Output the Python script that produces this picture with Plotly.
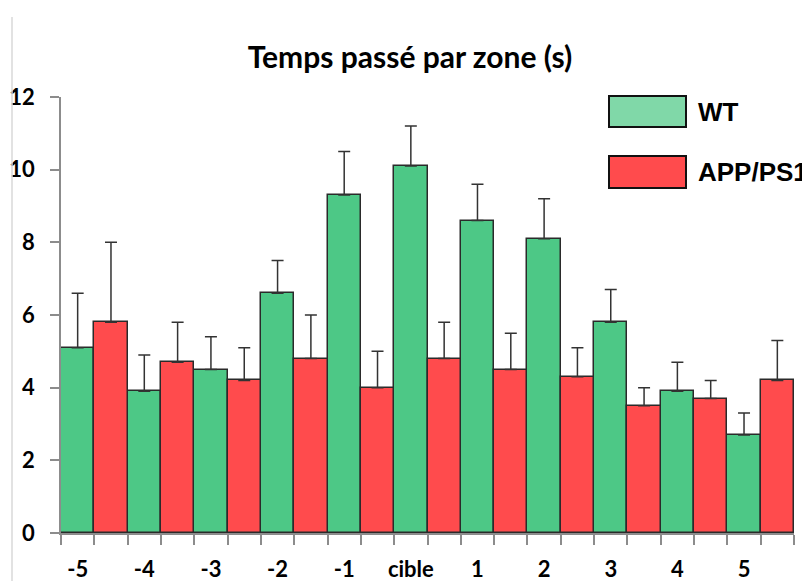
import plotly.graph_objects as go

zones = ["-5", "-4", "-3", "-2", "-1", "cible", "1", "2", "3", "4", "5"]
wt_mean = [5.1, 3.9, 4.5, 6.6, 9.3, 10.1, 8.6, 8.1, 5.8, 3.9, 2.7]
wt_err = [1.5, 1.0, 0.9, 0.9, 1.2, 1.1, 1.0, 1.1, 0.9, 0.8, 0.6]
app_mean = [5.8, 4.7, 4.2, 4.8, 4.0, 4.8, 4.5, 4.3, 3.5, 3.7, 4.2]
app_err = [2.2, 1.1, 0.9, 1.2, 1.0, 1.0, 1.0, 0.8, 0.5, 0.5, 1.1]

GREEN = "#4DC886"
GREEN_LEG = "#80D8A8"
RED = "#FF4B4D"
EDGE = "#2a2a2a"

n = len(zones)
x_wt = [2 * i for i in range(n)]
x_app = [2 * i + 1 for i in range(n)]

err_style = dict(type="data", symmetric=False, color="#333333", thickness=1.5, width=6)

fig = go.Figure()
fig.add_trace(go.Bar(
    x=x_wt, y=wt_mean, width=1, name="WT",
    marker=dict(color=GREEN, line=dict(color=EDGE, width=1.5)),
    error_y=dict(array=wt_err, arrayminus=[0] * n, **err_style),
    showlegend=False,
))
fig.add_trace(go.Bar(
    x=x_app, y=app_mean, width=1, name="APP/PS1",
    marker=dict(color=RED, line=dict(color=EDGE, width=1.5)),
    error_y=dict(array=app_err, arrayminus=[0] * n, **err_style),
    showlegend=False,
))

# page offset (body margin) is 8px; plot area in page coords: x 61..794, y 97..533
OFF = 8
PX0, PX1, PY0, PY1 = 61, 794, 97, 533
W = PX1 - PX0
H = PY1 - PY0

legend_items = [("WT", GREEN_LEG, 96, 127), ("APP/PS1", RED, 156, 188)]
shapes = []
annotations = []
for label, col, ytop, ybot in legend_items:
    shapes.append(dict(type="rect", xref="paper", yref="paper",
                       x0=(609 - PX0) / W, x1=(686 - PX0) / W,
                       y0=(PY1 - ybot) / H, y1=(PY1 - ytop) / H,
                       fillcolor=col, line=dict(color="#111111", width=2)))
    annotations.append(dict(xref="paper", yref="paper",
                            x=(696 - PX0) / W, y=(PY1 - (ytop + ybot) / 2) / H,
                            text=label, showarrow=False, xanchor="left", yanchor="middle",
                            font=dict(family="Liberation Sans", size=26, color="#000000", weight="bold")))

# left light frame line
shapes.append(dict(type="line", xref="paper", yref="paper",
                   x0=(12 - PX0) / W, x1=(12 - PX0) / W,
                   y0=(PY1 - 17) / H, y1=(PY1 - 590) / H,
                   line=dict(color="#d9d9d9", width=1.5)))

FW, FH = 810 - OFF, 581 - OFF
fig.update_layout(
    width=FW, height=FH,
    margin=dict(l=PX0 - OFF, r=FW - (PX1 - OFF), t=PY0 - OFF, b=FH - (PY1 - OFF), autoexpand=False),
    paper_bgcolor="white", plot_bgcolor="white",
    barmode="overlay", bargap=0,
    title=dict(text="Temps passé par zone (s)", x=(410 - OFF) / FW, xanchor="center",
               y=1 - (57 - OFF) / FH, yanchor="middle",
               font=dict(family="Lato", size=30, color="#000000", weight="bold")),
    shapes=shapes, annotations=annotations,
    xaxis=dict(range=[-0.5, 2 * n - 0.5], tickmode="array", tickvals=x_wt, ticktext=zones,
               ticks="", showgrid=False, zeroline=False, automargin=False,
               showline=True, linecolor="#8c8c8c", linewidth=1.5,
               ticklabelstandoff=16,
               tickfont=dict(family="Lato", size=22, color="#000000", weight="bold"),
               minor=dict(tickmode="linear", tick0=-0.5, dtick=1, ticks="outside",
                          ticklen=10, tickcolor="#8c8c8c", tickwidth=1.5, showgrid=False)),
    yaxis=dict(range=[0, 12], tickvals=[0, 2, 4, 6, 8, 10, 12], ticks="outside",
               ticklen=9, tickcolor="#8c8c8c", tickwidth=1.5, showgrid=False, zeroline=False,
               showline=True, linecolor="#8c8c8c", linewidth=1.5, automargin=False,
               ticklabelstandoff=11,
               tickfont=dict(family="Lato", size=22, color="#000000", weight="bold")),
)

fig.write_html("out.html")
